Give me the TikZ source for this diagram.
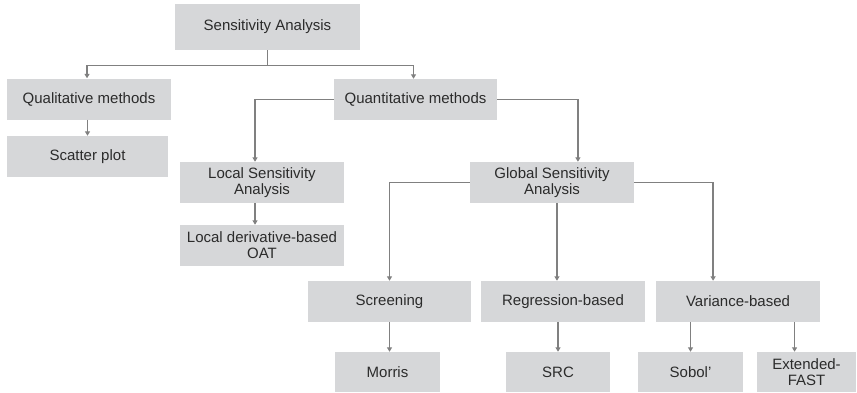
\documentclass[tikz,border=0pt]{standalone}
\usepackage{fontspec}
\setmainfont{Liberation Sans}
\usetikzlibrary{arrows.meta}
\definecolor{boxgray}{HTML}{D6D7D9}
\definecolor{linegray}{HTML}{808080}
\definecolor{textgray}{HTML}{2B2B2B}
\begin{document}
\begin{tikzpicture}[x=1bp,y=-1bp,font=\fontsize{15bp}{16bp}\selectfont,
  box/.style={fill=boxgray,text=textgray,inner sep=0pt,align=center,minimum height=41bp},
  conn/.style={draw=linegray,line width=1.4bp,-{Triangle[width=5bp,length=4.5bp]}}]
  \useasboundingbox (0,0) rectangle (857,392);
  \node[box,minimum width=185bp,minimum height=46bp] (sa) at (267.5,27) {Sensitivity Analysis};
  \node[box,minimum width=164bp] (qual) at (89,99) {Qualitative methods};
  \node[box,minimum width=163bp] (quant) at (415.5,99.5) {Quantitative methods};
  \node[box,minimum width=161bp] (scatter) at (87.5,156.5) {Scatter plot};
  \node[box,minimum width=164bp] (local) at (262,182.5) {Local Sensitivity\\Analysis};
  \node[box,minimum width=164bp] (localder) at (262,245.5) {Local derivative-based\\OAT};
  \node[box,minimum width=164bp] (gsa) at (552,182.5) {Global Sensitivity\\Analysis};
  \node[box,minimum width=163bp] (screen) at (389.5,301.5) {Screening};
  \node[box,minimum width=164bp] (reg) at (563,301.5) {Regression-based};
  \node[box,minimum width=164bp] (var) at (738,301.5) {Variance-based};
  \node[box,minimum width=105bp,minimum height=40bp] (morris) at (387.5,372) {Morris};
  \node[box,minimum width=104bp,minimum height=40bp] (src) at (558,372) {SRC};
  \node[box,minimum width=105bp,minimum height=40bp] (sobol) at (690.5,372) {Sobol’};
  \node[box,minimum width=99bp,minimum height=40bp] (ext) at (806.5,372) {Extended-\\FAST};
  % top level
  \draw[conn] (sa.south) -- ++(0,15) -| ([xshift=-2]qual.north);
  \draw[conn] (sa.south) -- ++(0,15) -| ([xshift=-2]quant.north);
  \draw[conn] (scatter.north |- qual.south) -- (scatter.north);
  % quantitative branch
  \draw[conn] (quant.west) -| ([xshift=-7]local.north);
  \draw[conn] (quant.east) -| ([xshift=26]gsa.north);
  \draw[conn] ([xshift=-7]local.south) -- ([xshift=-7]localder.north);
  % global branch
  \draw[conn] (gsa.west) -| (screen.north);
  \draw[conn] ([xshift=5]gsa.south) -- ([xshift=5]gsa.south |- reg.north);
  \draw[conn] (gsa.east) -| ([xshift=-25]var.north);
  \draw[conn] (screen.south) -- (screen.south |- morris.north);
  \draw[conn] (src.north |- reg.south) -- (src.north);
  \draw[conn] (sobol.north |- var.south) -- (sobol.north);
  \draw[conn] ([xshift=-12]ext.north |- var.south) -- ([xshift=-12]ext.north);
\end{tikzpicture}
\end{document}
